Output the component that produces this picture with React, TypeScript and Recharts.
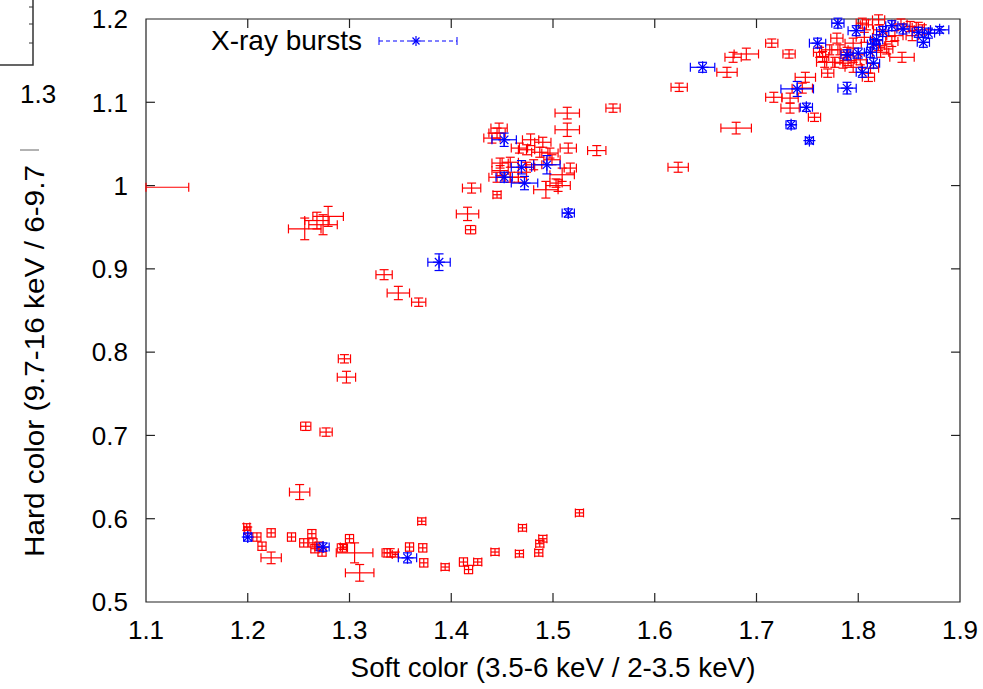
import {
  ScatterChart, Scatter, XAxis, YAxis, ErrorBar, ReferenceArea, ReferenceLine, Legend,
} from 'recharts'

const RED = '#ff0000'
const BLUE = '#0000ff'
const AXIS = '#222'
const FONT = '"Liberation Sans", Arial, sans-serif'

const xTicks = [1.1, 1.2, 1.3, 1.4, 1.5, 1.6, 1.7, 1.8, 1.9]
const yTicks = [0.5, 0.6, 0.7, 0.8, 0.9, 1, 1.1, 1.2]
const X_MIN = 1.1

// [soft, hard, softErr, hardErr] - pontos normais (sem burst)
const persistent: [number, number, number, number][] = [
  // ramo inferior
  [1.100, 0.998, 0.042, 0],
  [1.256, 0.948, 0.016, 0.013],
  [1.274, 0.953, 0.014, 0.012],
  [1.279, 0.963, 0.015, 0.012],
  [1.268, 0.958, 0.012, 0.010],
  [1.334, 0.893, 0.008, 0.006],
  [1.348, 0.871, 0.011, 0.008],
  [1.368, 0.860, 0.007, 0.005],
  [1.295, 0.792, 0.006, 0.005],
  [1.297, 0.770, 0.009, 0.007],
  [1.257, 0.711, 0.005, 0.005],
  [1.277, 0.704, 0.006, 0.005],
  [1.251, 0.632, 0.010, 0.009],
  // fundo
  [1.199, 0.590, 0.003, 0.004],
  [1.200, 0.586, 0.003, 0.004],
  [1.209, 0.578, 0.004, 0.005],
  [1.214, 0.567, 0.004, 0.005],
  [1.223, 0.583, 0.004, 0.005],
  [1.223, 0.553, 0.010, 0.007],
  [1.243, 0.578, 0.004, 0.005],
  [1.255, 0.571, 0.004, 0.005],
  [1.263, 0.582, 0.004, 0.005],
  [1.264, 0.571, 0.004, 0.005],
  [1.266, 0.564, 0.004, 0.005],
  [1.270, 0.567, 0.004, 0.005],
  [1.273, 0.560, 0.004, 0.005],
  [1.293, 0.565, 0.005, 0.005],
  [1.294, 0.566, 0.003, 0.003],
  [1.300, 0.576, 0.004, 0.005],
  [1.305, 0.559, 0.018, 0.012],
  [1.310, 0.535, 0.014, 0.010],
  [1.337, 0.559, 0.003, 0.005],
  [1.340, 0.559, 0.008, 0.005],
  [1.345, 0.557, 0.003, 0.003],
  [1.359, 0.566, 0.004, 0.005],
  [1.371, 0.597, 0.004, 0.004],
  [1.372, 0.565, 0.004, 0.005],
  [1.373, 0.547, 0.004, 0.005],
  [1.394, 0.542, 0.004, 0.004],
  [1.412, 0.548, 0.004, 0.005],
  [1.417, 0.539, 0.004, 0.005],
  [1.426, 0.548, 0.004, 0.004],
  [1.443, 0.560, 0.004, 0.004],
  [1.467, 0.558, 0.004, 0.004],
  [1.470, 0.589, 0.004, 0.004],
  [1.486, 0.559, 0.004, 0.004],
  [1.487, 0.570, 0.004, 0.004],
  [1.490, 0.576, 0.004, 0.004],
  [1.526, 0.607, 0.004, 0.004],
  // meio
  [1.514, 1.087, 0.012, 0.007],
  [1.559, 1.093, 0.007, 0.005],
  [1.514, 1.067, 0.012, 0.008],
  [1.543, 1.042, 0.009, 0.006],
  [1.515, 1.045, 0.008, 0.006],
  [1.517, 1.021, 0.006, 0.006],
  [1.509, 1.013, 0.012, 0.008],
  [1.493, 0.995, 0.012, 0.010],
  [1.505, 1.000, 0.012, 0.007],
  [1.447, 1.069, 0.008, 0.006],
  [1.445, 1.063, 0.008, 0.006],
  [1.440, 1.057, 0.008, 0.006],
  [1.478, 1.055, 0.008, 0.007],
  [1.490, 1.052, 0.008, 0.006],
  [1.474, 1.043, 0.008, 0.006],
  [1.467, 1.045, 0.008, 0.006],
  [1.487, 1.040, 0.008, 0.006],
  [1.497, 1.039, 0.008, 0.006],
  [1.448, 1.027, 0.008, 0.006],
  [1.458, 1.028, 0.008, 0.006],
  [1.474, 1.022, 0.008, 0.006],
  [1.481, 1.025, 0.008, 0.006],
  [1.499, 1.031, 0.008, 0.006],
  [1.448, 1.018, 0.008, 0.006],
  [1.466, 1.010, 0.008, 0.006],
  [1.445, 1.010, 0.008, 0.006],
  [1.458, 1.010, 0.008, 0.006],
  [1.503, 1.003, 0.006, 0.005],
  [1.445, 0.989, 0.004, 0.004],
  [1.420, 0.997, 0.009, 0.006],
  [1.416, 0.966, 0.011, 0.008],
  [1.419, 0.947, 0.005, 0.005],
  // topo direito
  [1.715, 1.171, 0.006, 0.005],
  [1.732, 1.158, 0.006, 0.005],
  [1.690, 1.158, 0.012, 0.007],
  [1.677, 1.154, 0.008, 0.006],
  [1.671, 1.136, 0.010, 0.006],
  [1.624, 1.118, 0.008, 0.005],
  [1.748, 1.130, 0.010, 0.006],
  [1.745, 1.117, 0.010, 0.006],
  [1.717, 1.106, 0.008, 0.006],
  [1.733, 1.105, 0.008, 0.006],
  [1.733, 1.093, 0.009, 0.006],
  [1.757, 1.082, 0.006, 0.005],
  [1.680, 1.069, 0.015, 0.007],
  [1.623, 1.022, 0.010, 0.006],
  [1.804, 1.195, 0.006, 0.006],
  [1.779, 1.177, 0.006, 0.006],
  [1.795, 1.171, 0.008, 0.006],
  [1.762, 1.160, 0.006, 0.006],
  [1.772, 1.163, 0.008, 0.006],
  [1.782, 1.163, 0.008, 0.006],
  [1.789, 1.160, 0.006, 0.006],
  [1.802, 1.151, 0.006, 0.006],
  [1.767, 1.148, 0.008, 0.006],
  [1.777, 1.148, 0.008, 0.006],
  [1.785, 1.147, 0.008, 0.006],
  [1.822, 1.160, 0.008, 0.006],
  [1.795, 1.142, 0.008, 0.006],
  [1.812, 1.141, 0.008, 0.006],
  [1.820, 1.199, 0.006, 0.006],
  [1.821, 1.187, 0.006, 0.006],
  [1.806, 1.178, 0.008, 0.006],
  [1.851, 1.191, 0.006, 0.006],
  [1.836, 1.180, 0.008, 0.006],
  [1.853, 1.180, 0.006, 0.006],
  [1.859, 1.190, 0.006, 0.006],
  [1.863, 1.187, 0.008, 0.006],
  [1.843, 1.154, 0.012, 0.006],
  [1.828, 1.164, 0.006, 0.006],
  [1.820, 1.168, 0.006, 0.006],
  [1.808, 1.193, 0.006, 0.006],
  [1.842, 1.194, 0.006, 0.006],
  [1.833, 1.173, 0.006, 0.006],
  [1.810, 1.130, 0.006, 0.005],
  [1.770, 1.135, 0.006, 0.005],
  [1.765, 1.155, 0.006, 0.006],
  [1.790, 1.150, 0.008, 0.006],
]

// [soft, hard, softErr, hardErr] - X-ray bursts
const bursts: [number, number, number, number][] = [
  [1.200, 0.578, 0.004, 0.005],
  [1.274, 0.566, 0.006, 0.005],
  [1.357, 0.553, 0.009, 0.006],
  [1.388, 0.908, 0.011, 0.010],
  [1.452, 1.055, 0.012, 0.008],
  [1.469, 1.022, 0.010, 0.008],
  [1.494, 1.025, 0.013, 0.011],
  [1.452, 1.010, 0.008, 0.006],
  [1.472, 1.003, 0.013, 0.008],
  [1.515, 0.967, 0.006, 0.005],
  [1.647, 1.142, 0.012, 0.006],
  [1.740, 1.116, 0.016, 0.009],
  [1.749, 1.094, 0.006, 0.005],
  [1.734, 1.073, 0.005, 0.005],
  [1.752, 1.054, 0.004, 0.004],
  [1.789, 1.117, 0.009, 0.007],
  [1.780, 1.195, 0.006, 0.006],
  [1.798, 1.186, 0.008, 0.006],
  [1.760, 1.171, 0.008, 0.006],
  [1.818, 1.175, 0.006, 0.006],
  [1.824, 1.185, 0.006, 0.006],
  [1.789, 1.157, 0.006, 0.006],
  [1.800, 1.159, 0.008, 0.006],
  [1.815, 1.147, 0.006, 0.006],
  [1.804, 1.136, 0.006, 0.006],
  [1.833, 1.192, 0.006, 0.006],
  [1.844, 1.188, 0.006, 0.006],
  [1.859, 1.184, 0.006, 0.006],
  [1.869, 1.183, 0.006, 0.006],
  [1.880, 1.187, 0.009, 0.004],
  [1.864, 1.172, 0.006, 0.006],
  [1.815, 1.170, 0.006, 0.006],
  [1.812, 1.160, 0.006, 0.006],
]

// barra de erro cortada na borda esquerda, como no gnuplot
const toRows = (pts: [number, number, number, number][]) =>
  pts.map(([x, y, ex, ey]) => ({
    x, y, ey,
    ex: x - ex < X_MIN ? [x - X_MIN, ex] : ex,
  }))

// asterisco estilo gnuplot (pt 3)
function Star({ cx, cy, r = 6 }: any) {
  if (cx == null || cy == null) return null
  const d = r * 0.7
  return (
    <g stroke={BLUE} strokeWidth={1.2}>
      <line x1={cx - r} y1={cy} x2={cx + r} y2={cy} />
      <line x1={cx} y1={cy - r} x2={cx} y2={cy + r} />
      <line x1={cx - d} y1={cy - d} x2={cx + d} y2={cy + d} />
      <line x1={cx - d} y1={cy + d} x2={cx + d} y2={cy - d} />
    </g>
  )
}

const NoMark = () => <g />

function BurstLegend() {
  return (
    <div style={{ display: 'flex', alignItems: 'center', fontFamily: FONT, fontSize: 28, color: '#000' }}>
      <span>X-ray bursts</span>
      <svg width={80} height={14} style={{ marginLeft: 16 }}>
        <line x1={1} y1={7} x2={79} y2={7} stroke={BLUE} strokeWidth={1} strokeDasharray="4 3" />
        <line x1={1} y1={3} x2={1} y2={11} stroke={BLUE} strokeWidth={1} />
        <line x1={79} y1={3} x2={79} y2={11} stroke={BLUE} strokeWidth={1} />
        <Star cx={38} cy={7} r={5} />
      </svg>
    </div>
  )
}

// ticks internos em todos os lados (estilo gnuplot)
const TX = 0.0088
const TY = 0.0108

export default function App() {
  const tickStyle = { fill: '#000', fontSize: 26, fontFamily: FONT }
  return (
    <div style={{ position: 'absolute', left: 0, top: 0, width: 983, height: 689, background: '#fff' }}>
      <ScatterChart width={983} height={689} margin={{ top: 19, right: 23, bottom: 7, left: 0 }}>
        <XAxis type="number" dataKey="x" domain={[1.1, 1.9]} ticks={xTicks} allowDataOverflow
          height={80} tickSize={6} tickMargin={13} tickLine={false} axisLine={false} tick={tickStyle}
          label={{ value: 'Soft color (3.5-6 keV / 2-3.5 keV)', position: 'insideBottom', offset: 5,
            style: { fill: '#000', fontSize: 27.8, fontFamily: FONT } }} />
        <YAxis type="number" dataKey="y" domain={[0.5, 1.2]} ticks={yTicks} allowDataOverflow
          width={146} tickSize={6} tickMargin={12} tickLine={false} axisLine={false} tick={tickStyle} />
        <ReferenceArea x1={1.1} x2={1.9} y1={0.5} y2={1.2} fill="none" stroke={AXIS} strokeWidth={1.2} ifOverflow="visible" />
        {xTicks.slice(1, -1).map((t) => (
          <ReferenceLine key={'b' + t} segment={[{ x: t, y: 0.5 }, { x: t, y: 0.5 + TY }]} stroke={AXIS} strokeWidth={1.2} />
        ))}
        {xTicks.slice(1, -1).map((t) => (
          <ReferenceLine key={'t' + t} segment={[{ x: t, y: 1.2 }, { x: t, y: 1.2 - TY }]} stroke={AXIS} strokeWidth={1.2} />
        ))}
        {yTicks.slice(1, -1).map((t) => (
          <ReferenceLine key={'l' + t} segment={[{ x: 1.1, y: t }, { x: 1.1 + TX, y: t }]} stroke={AXIS} strokeWidth={1.2} />
        ))}
        {yTicks.slice(1, -1).map((t) => (
          <ReferenceLine key={'r' + t} segment={[{ x: 1.9, y: t }, { x: 1.9 - TX, y: t }]} stroke={AXIS} strokeWidth={1.2} />
        ))}
        <Scatter name="persistent" data={toRows(persistent)} fill={RED} shape={NoMark} isAnimationActive={false}>
          <ErrorBar dataKey="ex" direction="x" width={4.5} stroke={RED} strokeWidth={1.2} isAnimationActive={false} />
          <ErrorBar dataKey="ey" direction="y" width={4.5} stroke={RED} strokeWidth={1.2} isAnimationActive={false} />
        </Scatter>
        <Scatter name="X-ray bursts" data={toRows(bursts)} fill={BLUE} shape={(p: any) => <Star cx={p.cx} cy={p.cy} />} isAnimationActive={false}>
          <ErrorBar dataKey="ex" direction="x" width={4.5} stroke={BLUE} strokeWidth={1.2} isAnimationActive={false} />
          <ErrorBar dataKey="ey" direction="y" width={4.5} stroke={BLUE} strokeWidth={1.2} isAnimationActive={false} />
        </Scatter>
        <Legend layout="horizontal" verticalAlign="middle" align="center" content={BurstLegend}
          wrapperStyle={{ left: 211, top: 25, width: 'auto' }} />
      </ScatterChart>
      {/* título do eixo y, cortado pelo recorte de outro painel */}
      <svg width={983} height={689} style={{ position: 'absolute', left: 0, top: 0, pointerEvents: 'none' }}>
        <text x={44} y={557} transform="rotate(-90 44 557)" fontFamily={FONT} fontSize={27.5} fill="#000"
          textLength={392} lengthAdjust="spacingAndGlyphs">
          Hard color (9.7-16 keV / 6-9.7
        </text>
        <line x1={20} y1={150} x2={39} y2={150} stroke="#666" strokeWidth={1} />
        <path d="M0 65 H33 V0" fill="none" stroke="#333" strokeWidth={1.5} />
        {[7, 24, 43].map((y) => <line key={y} x1={29} y1={y} x2={33} y2={y} stroke="#333" strokeWidth={1} />)}
        <text x={20} y={103} fontFamily={FONT} fontSize={26} fill="#000">1.3</text>
      </svg>
    </div>
  )
}
